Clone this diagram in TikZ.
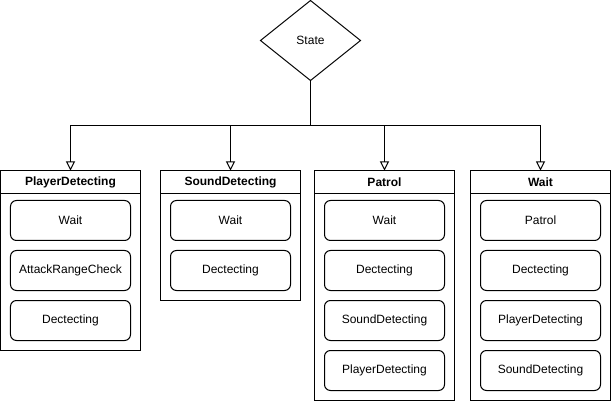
\documentclass[tikz,border=0pt]{standalone}
\usepackage{fontspec}
\setmainfont{Liberation Sans}
\usetikzlibrary{shapes.geometric,positioning,arrows.meta}

\begin{document}
\begin{tikzpicture}[x=1pt,y=1pt,line width=1pt,
    every node/.style={font=\fontsize{12}{14}\selectfont,outer sep=0pt},
    lane/.style={rectangle,draw,minimum width=140pt,minimum height=23pt,inner sep=0pt,font=\fontsize{12}{14}\selectfont\bfseries},
    lanebody/.style={rectangle,draw,minimum width=140pt,inner sep=0pt},
    item/.style={rectangle,draw,rounded corners=6pt,minimum width=120pt,minimum height=40pt,inner sep=0pt},
    edge/.style={-{Triangle[open,length=9pt,width=9pt]}}]
      \useasboundingbox (-0.5,0.5) rectangle (610.5,-400.5);
      \node (state) [diamond,draw,minimum width=100pt,minimum height=80pt,inner sep=0pt] at (310,-40) {State};
      \coordinate (fork) at (310,-125);
      % lanes
      \node (pd) [lane] at (70,-181.5) {PlayerDetecting};
      \node (sd) [lane] at (230,-181.5) {SoundDetecting};
      \node (pa) [lane] at (384,-181.5) {Patrol};
      \node (wa) [lane] at (540,-181.5) {Wait};
      \node (pdbody) [lanebody,minimum height=157pt,below=0pt of pd] {};
      \node (sdbody) [lanebody,minimum height=107pt,below=0pt of sd] {};
      \node (pabody) [lanebody,minimum height=207pt,below=0pt of pa] {};
      \node (wabody) [lanebody,minimum height=207pt,below=0pt of wa] {};
      % PlayerDetecting
      \node (pd1) [item,below=7pt of pd] {Wait};
      \node (pd2) [item,below=10pt of pd1] {AttackRangeCheck};
      \node (pd3) [item,below=10pt of pd2] {Dectecting};
      % SoundDetecting
      \node (sd1) [item,below=7pt of sd] {Wait};
      \node (sd2) [item,below=10pt of sd1] {Dectecting};
      % Patrol
      \node (pa1) [item,below=7pt of pa] {Wait};
      \node (pa2) [item,below=10pt of pa1] {Dectecting};
      \node (pa3) [item,below=10pt of pa2] {SoundDetecting};
      \node (pa4) [item,below=10pt of pa3] {PlayerDetecting};
      % Wait
      \node (wa1) [item,below=7pt of wa] {Patrol};
      \node (wa2) [item,below=10pt of wa1] {Dectecting};
      \node (wa3) [item,below=10pt of wa2] {PlayerDetecting};
      \node (wa4) [item,below=10pt of wa3] {SoundDetecting};
      % connectors
      \draw (state) -- (fork);
      \draw [edge] (fork) -| (pd);
      \draw [edge] (fork) -| (sd);
      \draw [edge] (fork) -| (pa);
      \draw [edge] (fork) -| (wa);
\end{tikzpicture}
\end{document}
